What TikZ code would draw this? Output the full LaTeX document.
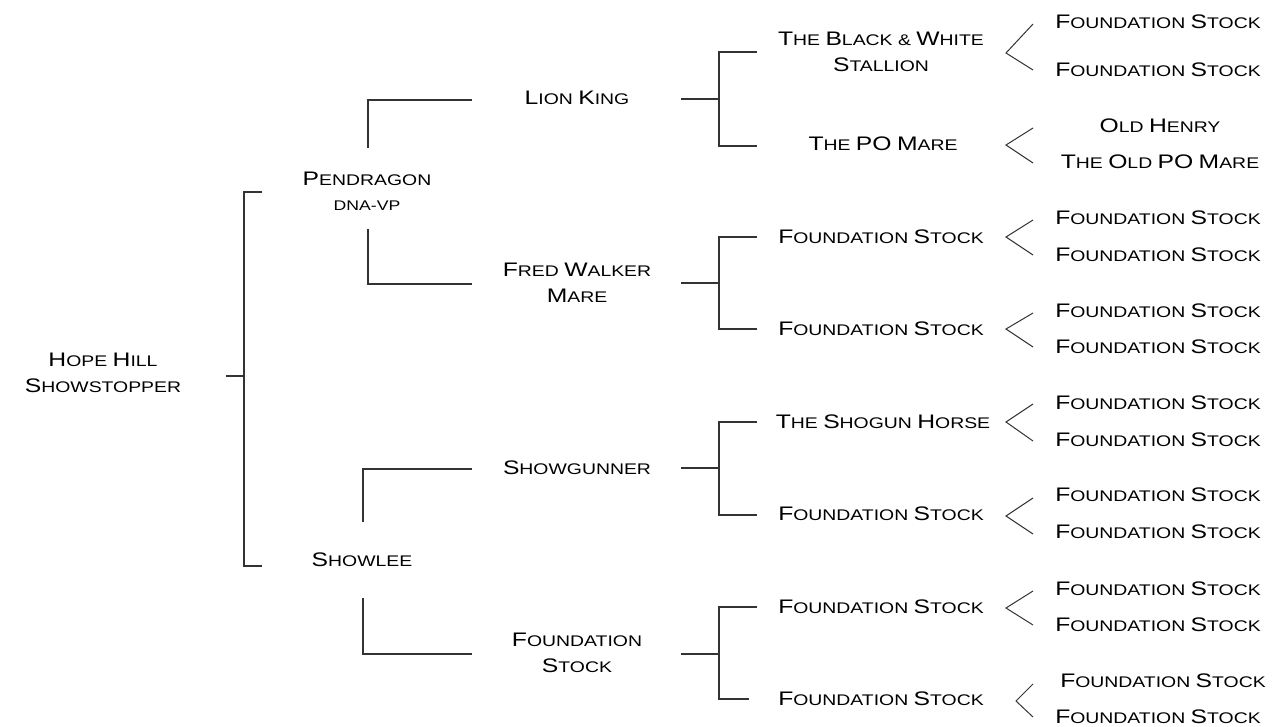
\documentclass[tikz,border=0pt]{standalone}
\usepackage{fontspec}
\setmainfont{Liberation Sans}[FakeStretch=1.26]
\newcommand\capl[1]{{\fontsize{19.6}{26}\selectfont #1}}
\tikzset{
  lbl/.style={font=\fontsize{15.4}{26}\selectfont, align=center, inner sep=0pt, text=black},
  tiny/.style={font=\fontsize{14}{16}\selectfont, inner sep=0pt, text=black},
  brk/.style={line width=1.5pt, draw=black!80},
  chev/.style={line width=1pt, draw=black!80}
}
\begin{document}
\begin{tikzpicture}[x=1pt,y=-1pt]
\useasboundingbox (0,0) rectangle (1272,726);
% level 0
\node[lbl] (root) at (103,373) {\capl{H}OPE \capl{H}ILL\\\capl{S}HOWSTOPPER};
% level 1
\node[lbl] (pen) at (367,179) {\capl{P}ENDRAGON};
\node[tiny] (dna) at (367,206) {DNA-VP};
\node[lbl] (showlee) at (362,560) {\capl{S}HOWLEE};
% level 2
\node[lbl] (lion) at (577,98) {\capl{L}ION \capl{K}ING};
\node[lbl] (fred) at (577,283) {\capl{F}RED \capl{W}ALKER\\\capl{M}ARE};
\node[lbl] (gunner) at (577,468) {\capl{S}HOWGUNNER};
\node[lbl] (fsB) at (577,653) {\capl{F}OUNDATION\\\capl{S}TOCK};
% level 3
\node[lbl] (bw) at (881,51.5) {\capl{T}HE \capl{B}LACK \& \capl{W}HITE\\\capl{S}TALLION};
\node[lbl] (po) at (883,144) {\capl{T}HE \capl{PO} \capl{M}ARE};
\node[lbl] (f3a) at (881,237) {\capl{F}OUNDATION \capl{S}TOCK};
\node[lbl] (f3b) at (881,329) {\capl{F}OUNDATION \capl{S}TOCK};
\node[lbl] (shogun) at (883,422) {\capl{T}HE \capl{S}HOGUN \capl{H}ORSE};
\node[lbl] (f3c) at (881,514) {\capl{F}OUNDATION \capl{S}TOCK};
\node[lbl] (f3d) at (881,607) {\capl{F}OUNDATION \capl{S}TOCK};
\node[lbl] (f3e) at (881,699) {\capl{F}OUNDATION \capl{S}TOCK};
% level 4
\node[lbl] (g1) at (1158,22) {\capl{F}OUNDATION \capl{S}TOCK};
\node[lbl] (g2) at (1158,70) {\capl{F}OUNDATION \capl{S}TOCK};
\node[lbl] (g3) at (1160,126) {\capl{O}LD \capl{H}ENRY};
\node[lbl] (g4) at (1160,162) {\capl{T}HE \capl{O}LD \capl{PO} \capl{M}ARE};
\node[lbl] (g5) at (1158,218) {\capl{F}OUNDATION \capl{S}TOCK};
\node[lbl] (g6) at (1158,255) {\capl{F}OUNDATION \capl{S}TOCK};
\node[lbl] (g7) at (1158,311) {\capl{F}OUNDATION \capl{S}TOCK};
\node[lbl] (g8) at (1158,347) {\capl{F}OUNDATION \capl{S}TOCK};
\node[lbl] (g9) at (1158,403) {\capl{F}OUNDATION \capl{S}TOCK};
\node[lbl] (g10) at (1158,440) {\capl{F}OUNDATION \capl{S}TOCK};
\node[lbl] (g11) at (1158,495) {\capl{F}OUNDATION \capl{S}TOCK};
\node[lbl] (g12) at (1158,532) {\capl{F}OUNDATION \capl{S}TOCK};
\node[lbl] (g13) at (1158,589) {\capl{F}OUNDATION \capl{S}TOCK};
\node[lbl] (g14) at (1158,625) {\capl{F}OUNDATION \capl{S}TOCK};
\node[lbl] (g15) at (1163,681) {\capl{F}OUNDATION \capl{S}TOCK};
\node[lbl] (g16) at (1158,717) {\capl{F}OUNDATION \capl{S}TOCK};
% root bracket
\coordinate (r0) at (226,376);
\coordinate (r1) at (244,376);
\coordinate (rt) at (262,192);
\coordinate (rb) at (262,566);
\draw[brk] (r0) -- (r1);
\draw[brk] (rt) -| (r1) |- (rb);
% Pendragon bracket
\coordinate (p0) at (368,148);
\coordinate (p1) at (472,100);
\coordinate (p2) at (368,229);
\coordinate (p3) at (472,284);
\draw[brk] (p0) |- (p1);
\draw[brk] (p2) |- (p3);
% Showlee bracket
\coordinate (s0) at (363,522);
\coordinate (s1) at (472,469);
\coordinate (s2) at (363,598);
\coordinate (s3) at (472,654);
\draw[brk] (s0) |- (s1);
\draw[brk] (s2) |- (s3);
% level 2 brackets
\foreach \y/\a/\b/\e in {99/52/146/757, 283/237/329/757, 468/422/515/757, 654/607/699/749} {
  \draw[brk] (681,\y) -- (719,\y);
  \draw[brk] (757,\a) -- (719,\a) -- (719,\b) -- (\e,\b);
}
% chevrons
\foreach \t/\m/\b/\x in {24/53/70/1006, 128/145/163/1006, 220/237/255/1006, 313/329/347/1006, 404/422/441/1006, 498/516/534/1006, 591/608/625/1006, 684/701/717/1016} {
  \draw[chev] (1033,\t) -- (\x,\m) -- (1033,\b);
}
\end{tikzpicture}
\end{document}
